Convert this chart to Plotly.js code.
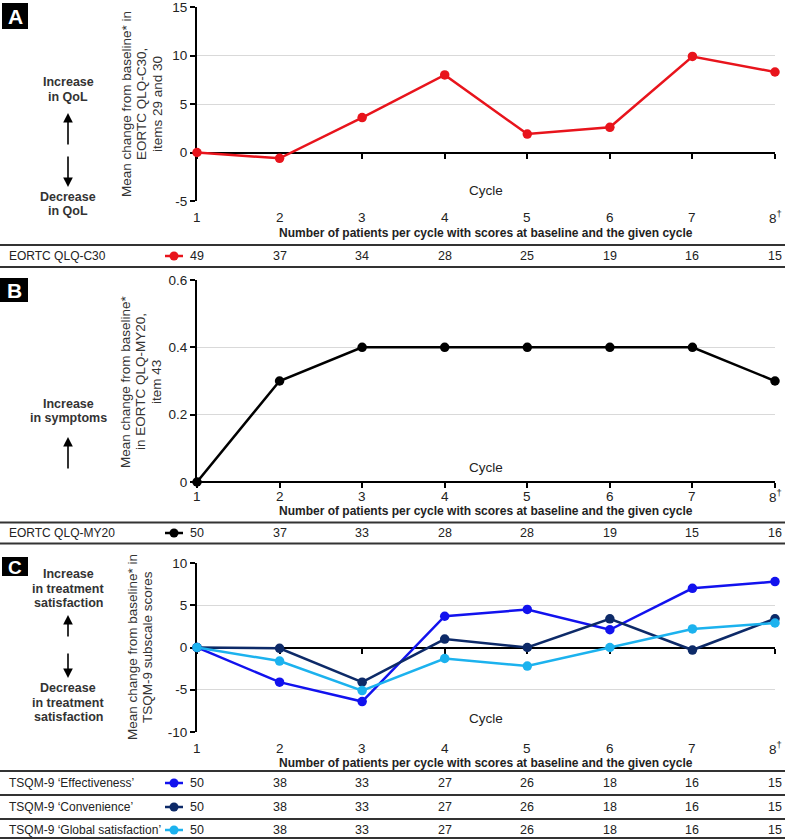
<!DOCTYPE html>
<html><head><meta charset="utf-8">
<script src="https://cdn.plot.ly/plotly-3.0.1.min.js"></script>
<style>html,body{margin:0;padding:0;background:#fff}</style>
</head><body><div id="chart" style="width:785px;height:839px"></div>
<script>
// ---------- data ----------
const cycles = [1, 2, 3, 4, 5, 6, 7, 8];
const cycleLabels = ['1', '2', '3', '4', '5', '6', '7', '8<sup>†</sup>'];
const qlqC30 = [0, -0.6, 3.6, 8.0, 1.9, 2.6, 9.9, 8.3];
const qlqMY20 = [0, 0.3, 0.4, 0.4, 0.4, 0.4, 0.4, 0.3];
const tsqmEffectiveness = [0, -4.1, -6.4, 3.7, 4.5, 2.1, 7.0, 7.8];
const tsqmConvenience = [0, -0.1, -4.1, 1.0, 0, 3.4, -0.3, 3.4];
const tsqmGlobal = [0, -1.6, -5.1, -1.3, -2.2, 0, 2.2, 2.9];
const nC30 = [49, 37, 34, 28, 25, 19, 16, 15];
const nMY20 = [50, 37, 33, 28, 28, 19, 15, 16];
const nEffectiveness = [50, 38, 33, 27, 26, 18, 16, 15];
const nConvenience = [50, 38, 33, 27, 26, 18, 16, 15];
const nGlobal = [50, 38, 33, 27, 26, 18, 16, 15];
const yTicksA = [-5, 0, 5, 10, 15];
const yTextA = ['-5', '0', '5', '10', '15'];
const yTicksB = [0, 0.2, 0.4, 0.6];
const yTextB = ['0', '0.2', '0.4', '0.6'];
const yTicksC = [-10, -5, 0, 5, 10];
const yTextC = ['-10', '-5', '0', '5', '10'];
const rowNames = ['EORTC QLQ-C30', 'EORTC QLQ-MY20', 'TSQM-9 ‘Effectiveness’', 'TSQM-9 ‘Convenience’', 'TSQM-9 ‘Global satisfaction’'];
const xTitle = 'Cycle';
const nTitle = 'Number of patients per cycle with scores at baseline and the given cycle';

// ---------- styling / geometry ----------
const W = 785, H = 839;
const fx = px => px / W;
const fy = px => 1 - px / H;
const colors = {c30: '#e8141c', my20: '#000000', eff: '#1212ee', conv: '#0d2a68', glob: '#1cb2ee'};
const FONT = 'Liberation Sans, Arial, sans-serif';
const xDom = [fx(197), fx(775)];

const panels = [
  {top: 7, bottom: 201, range: [-5, 15], ticks: yTicksA, ticktext: yTextA, labelY: 217, cycleY: 190, nY: 233},
  {top: 280, bottom: 482, range: [0, 0.6], ticks: yTicksB, ticktext: yTextB, labelY: 496, cycleY: 467, nY: 511},
  {top: 563, bottom: 732, range: [-10, 10], ticks: yTicksC, ticktext: yTextC, labelY: 748, cycleY: 718, nY: 763}
];

const layout = {
  width: W, height: H, margin: {l: 0, r: 0, t: 0, b: 0},
  paper_bgcolor: '#fff', plot_bgcolor: 'rgba(0,0,0,0)',
  showlegend: false, font: {family: FONT, color: '#222'},
  annotations: [], shapes: []
};
const A = layout.annotations, S = layout.shapes;

panels.forEach((p, i) => {
  const s = i === 0 ? '' : String(i + 1);
  const zeroPx = p.bottom - (0 - p.range[0]) / (p.range[1] - p.range[0]) * (p.bottom - p.top);
  layout['yaxis' + s] = {
    domain: [fy(p.bottom), fy(p.top)], range: p.range, anchor: 'x' + s,
    tickvals: p.ticks, ticktext: p.ticktext, showgrid: true, gridcolor: '#d9d9d9', gridwidth: 1,
    zeroline: false, showline: true, linecolor: '#000', linewidth: 2,
    ticks: 'outside', ticklen: 5, tickwidth: 2, tickcolor: '#000', ticklabeloverflow: 'allow',
    tickfont: {size: 13.5, color: '#222', family: FONT}, layer: 'below traces', fixedrange: true
  };
  layout['xaxis' + s] = {
    domain: xDom, range: [1, 8], anchor: 'free', position: fy(zeroPx),
    tickvals: cycles, showticklabels: false, showgrid: false, zeroline: false,
    showline: true, linecolor: '#000', linewidth: 2,
    ticks: 'outside', ticklen: 5, tickwidth: 2, tickcolor: '#000',
    layer: 'below traces', fixedrange: true
  };
  // category labels along the bottom of each panel
  cycles.forEach((c, k) => {
    A.push({text: cycleLabels[k], x: c, xref: 'x' + s, y: fy(p.labelY), yref: 'paper', showarrow: false,
      xanchor: 'center', yanchor: 'middle', font: {family: FONT, size: 13.5, color: '#222'}});
  });
  A.push({text: xTitle, x: 4.5, xref: 'x' + s, y: fy(p.cycleY), yref: 'paper', showarrow: false, xanchor: 'center', yanchor: 'middle',
    font: {family: FONT, size: 13.5, color: '#222'}});
  A.push({text: '<b>' + nTitle + '</b>', x: 4.5, xref: 'x' + s, y: fy(p.nY), yref: 'paper', showarrow: false, xanchor: 'center', yanchor: 'middle',
    font: {family: FONT, size: 12, color: '#222'}});
});

function series(y, color, ax) {
  return {x: cycles, y: y, xaxis: 'x' + ax, yaxis: 'y' + ax, type: 'scatter', mode: 'lines+markers',
    line: {color: color, width: 2.5}, marker: {color: color, size: 9.5}, cliponaxis: false, hoverinfo: 'skip'};
}
const data = [
  series(qlqC30, colors.c30, ''),
  series(qlqMY20, colors.my20, '2'),
  series(tsqmEffectiveness, colors.eff, '3'),
  series(tsqmConvenience, colors.conv, '3'),
  series(tsqmGlobal, colors.glob, '3')
];

function txt(text, xpx, ypx, opts) {
  A.push(Object.assign({text: text, x: fx(xpx), y: fy(ypx), xref: 'paper', yref: 'paper', showarrow: false,
    xanchor: 'center', yanchor: 'middle', font: {family: FONT, size: 13.5, color: '#333'}}, opts || {}));
}
function arrow(xpx, headPx, tailPx) {
  A.push({text: '', x: fx(xpx), y: fy(headPx), xref: 'paper', yref: 'paper', showarrow: true,
    ax: 0, ay: tailPx - headPx, arrowhead: 2, arrowsize: 1.2, arrowwidth: 1.6, arrowcolor: '#000'});
}
function hline(ypx) {
  S.push({type: 'line', xref: 'paper', yref: 'paper', x0: 0, x1: 1, y0: fy(ypx), y1: fy(ypx), line: {color: '#333', width: 2}});
}
function letterBox(ch, x0, y0, x1, y1, size) {
  S.push({type: 'rect', xref: 'paper', yref: 'paper', x0: fx(x0), x1: fx(x1), y0: fy(y1), y1: fy(y0), fillcolor: '#000', line: {width: 0}});
  txt('<b>' + ch + '</b>', (x0 + x1) / 2, (y0 + y1) / 2 + 0.5, {font: {family: FONT, size: size, color: '#fff'}});
}
function tableRow(name, counts, color, ypx) {
  txt(name, 7, ypx, {xanchor: 'left', font: {family: FONT, size: 12, color: '#222'}});
  S.push({type: 'line', xref: 'paper', yref: 'paper', x0: fx(165), x1: fx(183), y0: fy(ypx), y1: fy(ypx), line: {color: color, width: 2.5}});
  S.push({type: 'circle', xref: 'paper', yref: 'paper', x0: fx(169.5), x1: fx(178.5), y0: fy(ypx + 4.5), y1: fy(ypx - 4.5), fillcolor: color, line: {width: 0}});
  counts.forEach((n, i) => {
    A.push({text: String(n), x: cycles[i], xref: 'x', y: fy(ypx), yref: 'paper', showarrow: false,
      xanchor: 'center', yanchor: 'middle', font: {family: FONT, size: 12.5, color: '#222'}});
  });
}

// letters
letterBox('A', 2, 3, 28, 29, 21);
letterBox('B', 0, 278, 28, 302, 21);
letterBox('C', 2, 557, 28, 576, 19);

// y titles (rotated)
const rot = {textangle: -90};
txt('Mean change from baseline* in', 126, 104, rot);
txt('EORTC QLQ-C30,', 141, 104, rot);
txt('items 29 and 30', 157, 104, rot);
txt('Mean change from baseline*', 125, 382, rot);
txt('in EORTC QLQ-MY20,', 140, 382, rot);
txt('item 43', 156, 382, rot);
txt('Mean change from baseline* in', 132, 647, rot);
txt('TSQM-9 subscale scores', 147, 647, rot);

// side labels
const bold = {font: {family: FONT, size: 12.5, color: '#333'}};
txt('<b>Increase</b>', 68, 82, bold); txt('<b>in QoL</b>', 68, 97, bold);
arrow(68, 113, 146); arrow(68, 187, 155);
txt('<b>Decrease</b>', 68, 197, bold); txt('<b>in QoL</b>', 68, 211, bold);
txt('<b>Increase</b>', 68, 404, bold); txt('<b>in symptoms</b>', 68, 418, bold);
arrow(68, 437, 470);
txt('<b>Increase</b>', 68, 574, bold); txt('<b>in treatment</b>', 68, 589, bold); txt('<b>satisfaction</b>', 68, 603, bold);
arrow(68, 615, 638); arrow(68, 678, 652);
txt('<b>Decrease</b>', 68, 688, bold); txt('<b>in treatment</b>', 68, 703, bold); txt('<b>satisfaction</b>', 68, 717, bold);

// tables
hline(245); hline(267);
tableRow(rowNames[0], nC30, colors.c30, 256);
hline(522.5); hline(543.5);
tableRow(rowNames[1], nMY20, colors.my20, 533);
hline(771); hline(795); hline(819); hline(838);
tableRow(rowNames[2], nEffectiveness, colors.eff, 783);
tableRow(rowNames[3], nConvenience, colors.conv, 807);
tableRow(rowNames[4], nGlobal, colors.glob, 830);

Plotly.newPlot('chart', data, layout, {displayModeBar: false, staticPlot: true});
</script></body></html>
